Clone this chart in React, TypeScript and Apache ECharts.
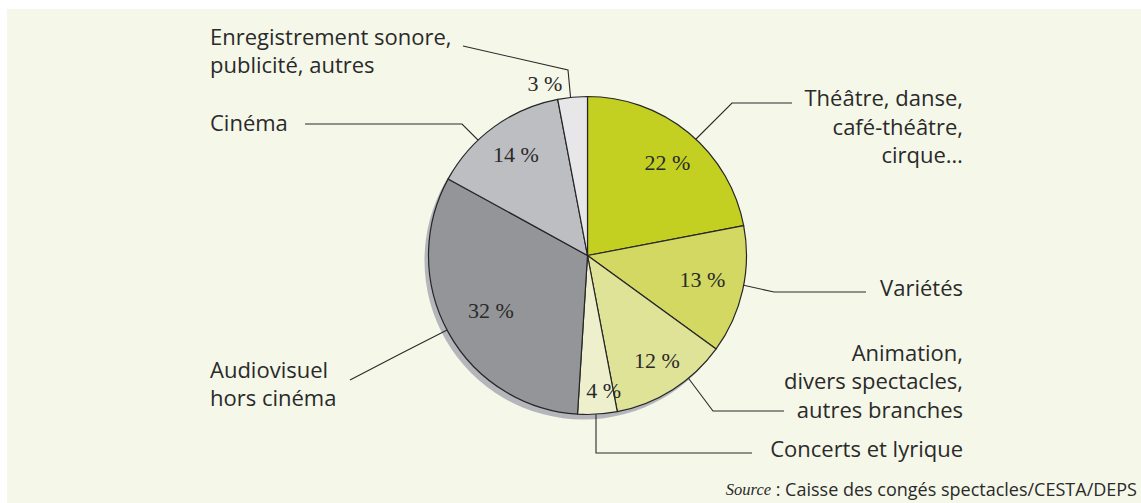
import React, { useEffect, useRef } from "react";
import * as echarts from "echarts";

// ---- data ----
const categories = [
  "Théâtre, danse,\ncafé-théâtre,\ncirque…",
  "Variétés",
  "Animation,\ndivers spectacles,\nautres branches",
  "Concerts et lyrique",
  "Audiovisuel\nhors cinéma",
  "Cinéma",
  "Enregistrement sonore,\npublicité, autres",
];
const shares = [22, 13, 12, 4, 32, 14, 3];
const sourceLabel = "Source";
const sourceText = " : Caisse des congés spectacles/CESTA/DEPS";

// ---- styles / layout ----
const sliceColors = ["#c3d022", "#d2d862", "#dfe397", "#eef0cd", "#949599", "#bdbec2", "#e7e7ea"];
const CENTER = [587.5, 255.5];
const RADIUS = 159;
const TEXT = "#2a2a2a";

type NameLayout = { x: number; y: number; align: string; lh: number; line: number[][] };
const nameLayout: NameLayout[] = [
  { x: 963, y: 125.8, align: "right", lh: 28.4, line: [[692, 143], [732, 103], [792, 103]] },
  { x: 963, y: 286.5, align: "right", lh: 28, line: [[738, 284], [774, 292], [866, 292]] },
  { x: 963, y: 380.2, align: "right", lh: 28.6, line: [[686, 375], [713, 411], [784, 411]] },
  { x: 963, y: 448.2, align: "right", lh: 28, line: [[596, 407], [596, 453], [752, 453]] },
  { x: 210, y: 383.2, align: "left", lh: 28, line: [[453, 327], [401, 353.5], [350, 380]] },
  { x: 210, y: 121.5, align: "left", lh: 28, line: [[483, 145], [462, 124], [305, 124]] },
  { x: 210, y: 50, align: "left", lh: 27.5, line: [[571, 102], [568, 70], [463, 46]] },
];
const pctLayout = [
  [667.5, 162],
  [702.5, 279.5],
  [657, 360.5],
  [603.7, 390.7],
  [490.8, 310.5],
  [516, 154],
  [545, 83],
];

export default function App() {
  const ref = useRef<HTMLDivElement>(null);
  useEffect(() => {
    const chart = echarts.init(ref.current!, null, { renderer: "svg" });
    const total = shares.reduce((a, b) => a + b, 0);
    const option: any = {
      animation: false,
      graphic: [
        {
          type: "rect",
          z: -10,
          silent: true,
          shape: { x: 7, y: 9, width: 1134, height: 494 },
          style: { fill: "#f5f7e9" },
        },
        {
          type: "text",
          x: 1137,
          y: 489,
          silent: true,
          style: {
            text: `{i|${sourceLabel}}${sourceText}`,
            align: "right",
            verticalAlign: "middle",
            fontFamily: "Open Sans",
            fontSize: 18,
            fill: TEXT,
            rich: {
              i: {
                fontFamily: "Liberation Serif",
                fontStyle: "italic",
                fontSize: 16.5,
                fill: TEXT,
                color: TEXT,
              },
            },
          },
        },
      ],
      series: [
        {
          type: "pie",
          name: "ombre",
          center: [CENTER[0] - 4, CENTER[1] + 5],
          radius: RADIUS,
          silent: true,
          z: 1,
          label: { show: false },
          labelLine: { show: false },
          emphasis: { disabled: true },
          itemStyle: { color: "#b5b6bb" },
          data: [{ value: total, name: "ombre" }],
        },
        {
          type: "pie",
          name: "main",
          center: CENTER,
          radius: RADIUS,
          startAngle: 90,
          clockwise: true,
          silent: true,
          z: 2,
          avoidLabelOverlap: false,
          emphasis: { disabled: true },
          itemStyle: { borderColor: "#262626", borderWidth: 1.2 },
          label: {
            show: true,
            position: "outside",
            formatter: "{b}",
            fontFamily: "Open Sans",
            fontSize: 22,
            color: TEXT,
          },
          labelLine: {
            show: true,
            length: 10,
            length2: 10,
            smooth: false,
            lineStyle: { color: TEXT, width: 1.1 },
          },
          labelLayout: (p: any) => {
            const l = nameLayout[p.dataIndex];
            return {
              x: l.x,
              y: l.y,
              align: l.align,
              verticalAlign: "middle",
              labelLinePoints: l.line,
            };
          },
          data: shares.map((v, i) => ({
            value: v,
            name: categories[i],
            itemStyle: { color: sliceColors[i] },
            label: { lineHeight: nameLayout[i].lh },
          })),
        },
        {
          type: "pie",
          name: "pct",
          center: CENTER,
          radius: RADIUS,
          startAngle: 90,
          clockwise: true,
          silent: true,
          z: 3,
          avoidLabelOverlap: false,
          emphasis: { disabled: true },
          itemStyle: { color: "rgba(0,0,0,0)", borderWidth: 0 },
          label: {
            show: true,
            position: "outside",
            formatter: "{c} %",
            fontFamily: "Liberation Serif",
            fontSize: 22,
            color: TEXT,
          },
          labelLine: { show: false },
          labelLayout: (p: any) => {
            const l = pctLayout[p.dataIndex];
            return { x: l[0], y: l[1], align: "center", verticalAlign: "middle" };
          },
          data: shares.map((v, i) => ({ value: v, name: categories[i] })),
        },
      ],
    };
    chart.setOption(option);
    return () => chart.dispose();
  }, []);
  return (
    <div
      ref={ref}
      style={{ position: "absolute", left: 0, top: 0, width: 1141, height: 503, background: "#ffffff" }}
    />
  );
}
